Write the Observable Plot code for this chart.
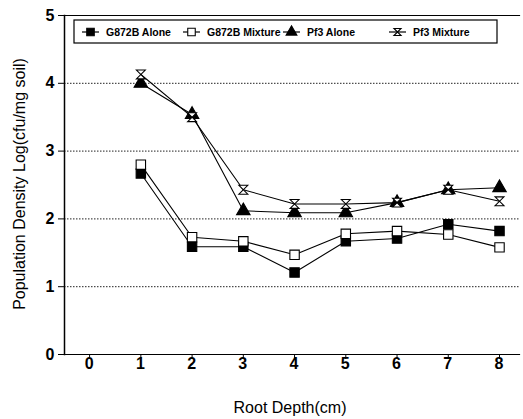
<!DOCTYPE html>
<html>
<head>
<meta charset="utf-8">
<script src="https://cdn.jsdelivr.net/npm/d3@7"></script>
<script src="https://cdn.jsdelivr.net/npm/@observablehq/plot@0.6"></script>
<style>
  html, body { margin: 0; padding: 0; background: #fff; }
  #chart { position: relative; width: 523px; height: 419px; }
  svg { font-family: "Liberation Sans", Arial, sans-serif; }
</style>
</head>
<body>
<div id="chart"></div>
<script>
const depths = [1, 2, 3, 4, 5, 6, 7, 8];
const g872bAlone   = [2.67, 1.59, 1.59, 1.21, 1.67, 1.71, 1.92, 1.82];
const g872bMixture = [2.80, 1.73, 1.67, 1.47, 1.78, 1.82, 1.77, 1.58];
const pf3Alone     = [4.00, 3.54, 2.12, 2.09, 2.09, 2.24, 2.43, 2.46];
const pf3Mixture   = [4.13, 3.50, 2.43, 2.22, 2.22, 2.24, 2.43, 2.26];
const seriesNames = ["G872B Alone", "G872B Mixture", "Pf3 Alone", "Pf3 Mixture"];
const xTicks = [0, 1, 2, 3, 4, 5, 6, 7, 8];
const yTicks = [0, 1, 2, 3, 4, 5];
const gridValues = [1, 2, 3, 4];

const hourglass = {
  draw(ctx, size) {
    const r = Math.sqrt(size) / 2;
    ctx.moveTo(-r, -r); ctx.lineTo(r, -r); ctx.lineTo(-r, r); ctx.lineTo(r, r); ctx.closePath();
  }
};

const styles = {
  "G872B Alone":   {symbol: "square", fill: "black", r: 5.3},
  "G872B Mixture": {symbol: "square", fill: "white", r: 5.3},
  "Pf3 Alone":     {symbol: "triangle", fill: "black", r: 5.0},
  "Pf3 Mixture":   {symbol: hourglass, fill: "white", r: 5.0}
};

const valuesBySeries = [g872bAlone, g872bMixture, pf3Alone, pf3Mixture];
const seriesData = seriesNames.map((name, i) => depths.map((d, j) => ({series: name, depth: d, value: valuesBySeries[i][j]})));

const marks = [
  Plot.ruleY(gridValues, {stroke: "#222", strokeWidth: 1, strokeDasharray: "1.5,1.5"}),
  Plot.frame({anchor: "left", stroke: "black", strokeWidth: 1.5}),
  Plot.frame({anchor: "bottom", stroke: "black", strokeWidth: 1.2}),
  Plot.frame({anchor: "top", stroke: "black", strokeWidth: 1.2})
];
seriesData.forEach(data => {
  marks.push(Plot.line(data, {x: "depth", y: "value", stroke: "black", strokeWidth: 1.1}));
});
seriesData.forEach((data, i) => {
  const s = styles[seriesNames[i]];
  marks.push(Plot.dot(data, {x: "depth", y: "value", symbol: () => s.symbol, r: s.r, fill: s.fill, stroke: "black", strokeWidth: 1.1}));
});

const plot = Plot.plot({
  width: 523,
  height: 419,
  marginLeft: 64,
  marginRight: 4,
  marginTop: 15,
  marginBottom: 65,
  style: {fontFamily: "Liberation Sans, Arial, sans-serif", background: "white", color: "black"},
  symbol: {type: "identity"},
  x: {domain: [-0.49, 8.39], ticks: xTicks, tickSize: 5, tickPadding: 4, label: null, tickFormat: d => String(d)},
  y: {domain: [0, 5], ticks: yTicks, tickSize: 6, tickPadding: 4, label: null, tickFormat: d => String(d)},
  marks
});

const svg = d3.select(plot);
svg.selectAll("[aria-label='x-axis tick label'] text, [aria-label='y-axis tick label'] text")
  .style("font-size", "16px").style("font-weight", "bold");
svg.select("[aria-label='x-axis tick label']").attr("transform", "translate(0,4)");

// axis titles
svg.append("text").attr("x", 290).attr("y", 413).attr("text-anchor", "middle")
  .style("font-size", "16px").text("Root Depth(cm)");
svg.append("text").attr("transform", "translate(25,184) rotate(-90)").attr("text-anchor", "middle")
  .style("font-size", "16px").text("Population Density Log(cfu/mg soil)");

// legend
const lg = svg.append("g").attr("aria-label", "legend").attr("text-anchor", "start");
lg.append("rect").attr("x", 74).attr("y", 20).attr("width", 423).attr("height", 23)
  .attr("fill", "white").attr("stroke", "black").attr("stroke-width", 1.2);
const legendX = [82, 183, 283, 389];
const symGen = (sym, r) => d3.symbol(sym === "square" ? d3.symbolSquare : sym === "triangle" ? d3.symbolTriangle : sym, r * r * Math.PI)();
seriesNames.forEach((name, i) => {
  const s = styles[name];
  const x0 = legendX[i], cy = 32;
  lg.append("line").attr("x1", x0).attr("x2", x0 + 17).attr("y1", cy).attr("y2", cy).attr("stroke", "black").attr("stroke-width", 1.2);
  lg.append("path").attr("d", symGen(s.symbol, s.r * 0.8)).attr("transform", `translate(${x0 + 8.5},${cy})`)
    .attr("fill", s.fill).attr("stroke", "black").attr("stroke-width", 1.1);
  lg.append("text").attr("x", x0 + 24).attr("y", cy).attr("dy", "0.35em").attr("text-anchor", "start")
    .style("font-size", "10.5px").style("font-weight", "bold").text(name);
});

document.getElementById("chart").appendChild(plot);
</script>
</body>
</html>
